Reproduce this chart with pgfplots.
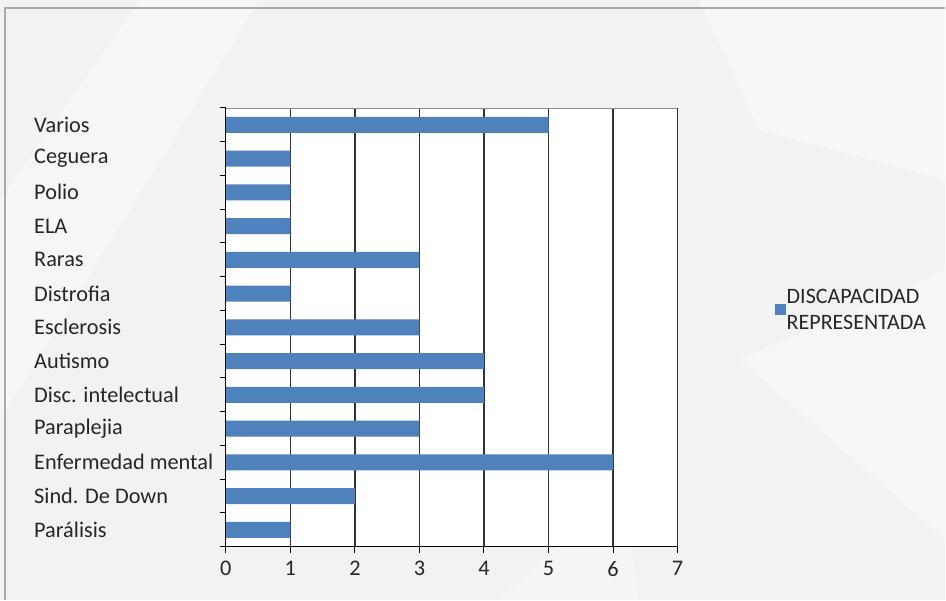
\documentclass[border=0pt]{standalone}
\usepackage{pgfplots}
\pgfplotsset{compat=1.18}
\usepackage{fontspec}
\setmainfont{Carlito}
\definecolor{barblue}{RGB}{79,129,189}
\definecolor{bgcol}{RGB}{242,242,242}
\definecolor{framecol}{RGB}{170,170,170}

\pgfplotstableread{
y val
0 1
1 2
2 6
3 3
4 4
5 4
6 3
7 1
8 3
9 1
10 1
11 1
12 5
}\discdata

\begin{document}
\begin{tikzpicture}
% page background and decorative shapes
\fill[bgcol] (0pt,0pt) rectangle (946pt,600pt);
\fill[white,opacity=0.45] (700pt,600pt) -- (946pt,600pt) -- (946pt,420pt) -- (760pt,470pt) -- cycle;
\fill[white,opacity=0.35] (740pt,240pt) -- (946pt,60pt) -- (946pt,330pt) -- cycle;
\fill[white,opacity=0.35] (0pt,400pt) -- (140pt,600pt) -- (260pt,600pt) -- (0pt,180pt) -- cycle;
\fill[white,opacity=0.3] (500pt,0pt) -- (640pt,0pt) -- (620pt,110pt) -- cycle;
\draw[framecol,line width=1.2pt] (5pt,0pt) -- (5pt,592pt) -- (946pt,592pt);

\begin{axis}[
    at={(226pt,53pt)}, anchor=south west,
    scale only axis, width=452pt, height=439pt,
    xbar, bar width=16pt,
    xmin=0, xmax=7, ymin=-0.5, ymax=12.5,
    axis x line=bottom, axis y line=left,
    axis line style={black, line width=1pt, -},
    axis background/.style={fill=white},
    xtick={0,...,7},
    xmajorgrids, major grid style={black!80, line width=1.2pt},
    ytick={-0.5,0.5,...,12.5},
    yticklabels={},
    tick align=outside,
    major tick length=6pt,
    tick style={black, line width=1pt},
    extra y ticks={0,...,12},
    extra y tick labels={Parálisis, Sind. De Down, Enfermedad mental, Paraplejia, Disc. intelectual, Autismo, Esclerosis, Distrofia, Raras, ELA, Polio, Ceguera, Varios},
    extra y tick style={major tick length=0pt, tick style={draw=none},
        yticklabel style={anchor=west, inner sep=0pt, xshift=-192pt}},
    xticklabel style={yshift=-5pt},
    /pgf/number format/assume math mode=true,
    tick label style={font=\fontsize{22.3}{24}\selectfont, text=black!85},
    legend style={at={(1.208,0.54)}, anchor=west, draw=none, fill=none,
        font=\fontsize{22}{26}\selectfont, text=black!85,
        nodes={align=left, inner sep=1pt}},
    legend image code/.code={\fill[#1] (0pt,-5pt) rectangle (11pt,6pt);},
]
\addplot[fill=barblue, draw=none] table[x=val, y=y] {\discdata};
\addlegendentry{DISCAPACIDAD\\REPRESENTADA}
\draw[black!45, line width=0.8pt] (axis cs:0,12.5) -- (axis cs:7,12.5);
\draw[black!80, line width=1.2pt] (axis cs:7,-0.5) -- (axis cs:7,12.5);
\end{axis}
\end{tikzpicture}
\end{document}
